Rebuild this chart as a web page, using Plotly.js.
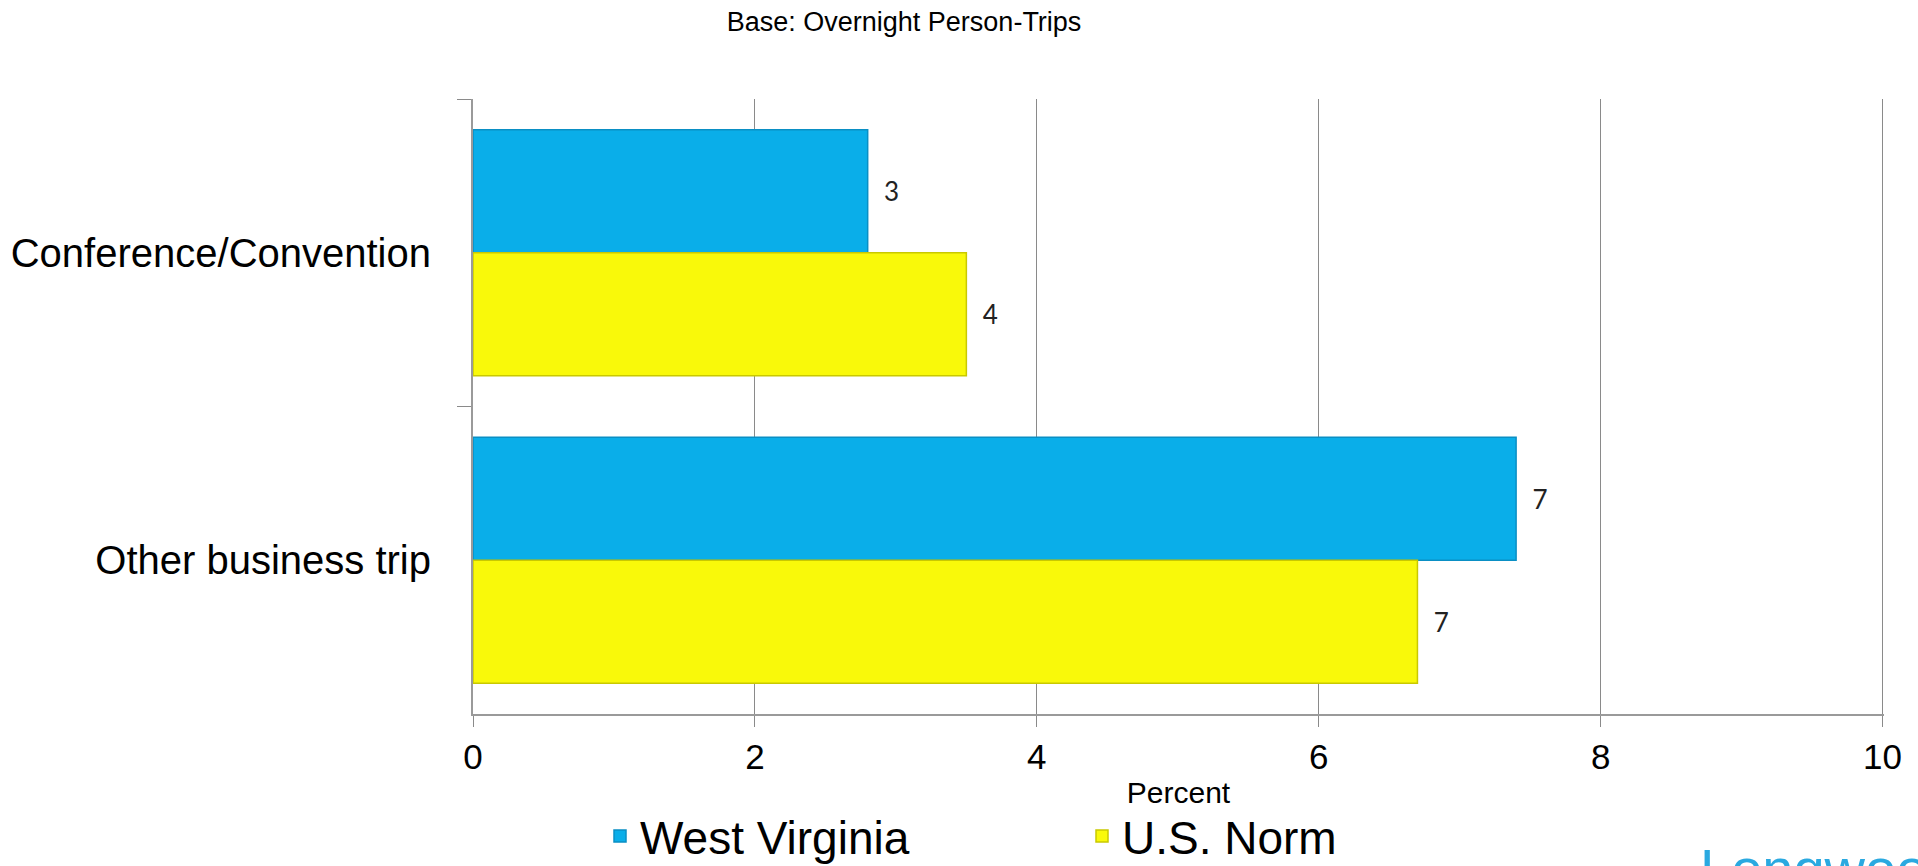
<!DOCTYPE html>
<html>
<head>
<meta charset="utf-8">
<script src="https://cdn.plot.ly/plotly-3.0.1.min.js"></script>
<style>
  html, body { margin: 0; padding: 0; background: #fff; }
  #chart { width: 1918px; height: 866px; }
</style>
</head>
<body>
<div id="chart"></div>
<script>
// ---- data ----
var categories = ["Conference/Convention", "Other business trip"];
var westVirginia = [2.8, 7.4];
var usNorm = [3.5, 6.7];
var seriesNames = ["West Virginia", "U.S. Norm"];
var xTickValues = [0, 2, 4, 6, 8, 10];
var chartTitle = "Base: Overnight Person-Trips";
var xAxisTitle = "Percent";
var logoText = "Longwoods";

var sans = "'Liberation Sans', Arial, sans-serif";
var labelFont = { family: "Lato, 'DejaVu Sans', sans-serif", size: 26, color: "#222" };

var traces = [
  {
    type: "bar", orientation: "h", name: seriesNames[0],
    y: categories, x: westVirginia,
    marker: { color: "#0AAEE9", line: { color: "#0A8FC4", width: 1.5 } },
    texttemplate: "  %{x:.0f}", textposition: "outside",
    textfont: labelFont, cliponaxis: false, hoverinfo: "x+name"
  },
  {
    type: "bar", orientation: "h", name: seriesNames[1],
    y: categories, x: usNorm,
    marker: { color: "#F9F90A", line: { color: "#C9C900", width: 1.5 } },
    texttemplate: "  %{x:.0f}", textposition: "outside",
    textfont: labelFont, cliponaxis: false, hoverinfo: "x+name"
  }
];

var layout = {
  width: 1918, height: 866,
  paper_bgcolor: "#fff", plot_bgcolor: "#fff",
  margin: { l: 473, r: 34, t: 99, b: 152, pad: 0, autoexpand: false },
  font: { family: sans, color: "#000" },
  barmode: "group", bargap: 0.2, bargroupgap: 0,
  title: {
    text: chartTitle, font: { family: sans, size: 27, color: "#000" },
    xref: "paper", x: 0.3055, xanchor: "center",
    yref: "container", y: 0.975, yanchor: "middle"
  },
  xaxis: {
    range: [0, 10.01], tickvals: xTickValues, ticktext: xTickValues.map(String),
    showgrid: true, gridcolor: "#8a8a8a", gridwidth: 1,
    showline: true, linecolor: "#9a9a9a", linewidth: 2,
    ticks: "outside", ticklen: 11, tickcolor: "#8a8a8a",
    tickfont: { family: sans, size: 35, color: "#000" },
    zeroline: false,
    title: { text: xAxisTitle, font: { family: sans, size: 30, color: "#000" }, standoff: 7 }
  },
  yaxis: {
    autorange: "reversed", type: "category",
    showline: true, linecolor: "#9a9a9a", linewidth: 2,
    ticks: "outside", tickson: "boundaries", ticklen: 14, tickcolor: "#8a8a8a",
    tickfont: { family: sans, size: 40, color: "#000" },
    showgrid: false, ticklabelstandoff: 32
  },
  showlegend: true,
  legend: {
    orientation: "h", x: (600 - 473) / 1411, xanchor: "left",
    y: -(836 - 714) / 615, yanchor: "middle",
    font: { family: sans, size: 46, color: "#000" },
    entrywidth: 437, entrywidthmode: "pixels",
    traceorder: "normal", itemwidth: 30
  },
  annotations: [
    {
      text: logoText, xref: "paper", yref: "paper",
      x: (1698 - 473) / 1411, xanchor: "left",
      y: -(835 - 714) / 615, yanchor: "top",
      showarrow: false,
      font: { family: sans, size: 56, color: "#2AA9E0" }
    }
  ]
};

Plotly.newPlot("chart", traces, layout, { displayModeBar: false, responsive: false });
</script>
</body>
</html>
